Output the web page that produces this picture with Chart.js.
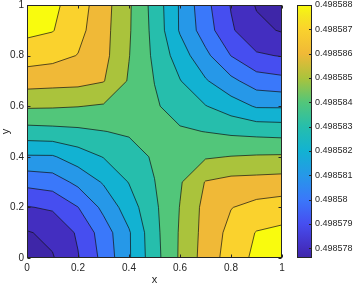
<!DOCTYPE html>
<html lang="en">
<head>
    <meta charset="UTF-8">
    <title>Filled contour</title>
    <script src="https://cdn.jsdelivr.net/npm/chart.js"></script>
    <style>
        html, body {
            margin: 0;
            padding: 0;
            background-color: #fff;
        }
        #plot {
            display: block;
        }
    </style>
</head>
<body>
    <canvas id="plot" width="354" height="285"></canvas>

    <script>
        // grid coordinates
        const xGrid = [0, 0.1, 0.2, 0.3, 0.4, 0.5, 0.6, 0.7, 0.8, 0.9, 1];
        const yGrid = [0, 0.1, 0.2, 0.3, 0.4, 0.5, 0.6, 0.7, 0.8, 0.9, 1];

        // z values, one row per y (bottom row first)
        const zGrid = [
            [0.49857700, 0.49857792, 0.49857894, 0.49858030, 0.49858189, 0.49858362, 0.49858513, 0.49858642, 0.49858746, 0.49858824, 0.49858900],
            [0.49857792, 0.49857825, 0.49857913, 0.49858049, 0.49858190, 0.49858370, 0.49858510, 0.49858635, 0.49858730, 0.49858805, 0.49858824],
            [0.49857894, 0.49857913, 0.49857998, 0.49858125, 0.49858250, 0.49858381, 0.49858503, 0.49858630, 0.49858697, 0.49858730, 0.49858746],
            [0.49858030, 0.49858049, 0.49858125, 0.49858210, 0.49858304, 0.49858398, 0.49858490, 0.49858605, 0.49858630, 0.49858635, 0.49858642],
            [0.49858189, 0.49858190, 0.49858250, 0.49858304, 0.49858358, 0.49858412, 0.49858455, 0.49858490, 0.49858503, 0.49858510, 0.49858513],
            [0.49858362, 0.49858370, 0.49858381, 0.49858398, 0.49858412, 0.49858424, 0.49858412, 0.49858398, 0.49858381, 0.49858370, 0.49858362],
            [0.49858513, 0.49858510, 0.49858503, 0.49858490, 0.49858455, 0.49858412, 0.49858358, 0.49858304, 0.49858250, 0.49858190, 0.49858189],
            [0.49858642, 0.49858635, 0.49858630, 0.49858605, 0.49858490, 0.49858398, 0.49858304, 0.49858210, 0.49858125, 0.49858049, 0.49858030],
            [0.49858746, 0.49858730, 0.49858697, 0.49858630, 0.49858503, 0.49858381, 0.49858250, 0.49858125, 0.49857998, 0.49857913, 0.49857894],
            [0.49858824, 0.49858805, 0.49858730, 0.49858635, 0.49858510, 0.49858370, 0.49858190, 0.49858049, 0.49857913, 0.49857825, 0.49857792],
            [0.49858900, 0.49858824, 0.49858746, 0.49858642, 0.49858513, 0.49858362, 0.49858189, 0.49858030, 0.49857894, 0.49857792, 0.49857700]
        ];

        // contour levels and tick labels
        const levels = [0.498578, 0.498579, 0.49858, 0.498581, 0.498582, 0.498583, 0.498584, 0.498585, 0.498586, 0.498587, 0.498588];
        const xTicks = [0, 0.2, 0.4, 0.6, 0.8, 1];
        const yTicks = [0, 0.2, 0.4, 0.6, 0.8, 1];
        const cbTicks = [0.498578, 0.498579, 0.49858, 0.498581, 0.498582, 0.498583, 0.498584, 0.498585, 0.498586, 0.498587, 0.498588];
        const cbRange = [0.4985776, 0.498588];

        // parula-like colormap
        const parulaStops = [
            [0.000, 62, 38, 168],
            [0.038, 67, 46, 192],
            [0.135, 70, 78, 240],
            [0.231, 58, 120, 250],
            [0.327, 38, 152, 232],
            [0.423, 18, 178, 210],
            [0.519, 38, 190, 172],
            [0.615, 82, 198, 122],
            [0.711, 170, 195, 60],
            [0.808, 240, 185, 55],
            [0.904, 250, 210, 45],
            [0.960, 245, 232, 30],
            [1.000, 249, 251, 14]
        ];

        function parula(f) {
            f = Math.min(1, Math.max(0, f));
            for (let i = 1; i < parulaStops.length; i++) {
                const a = parulaStops[i - 1], b = parulaStops[i];
                if (f <= b[0]) {
                    const t = (f - a[0]) / (b[0] - a[0]);
                    const c = [1, 2, 3].map(k => Math.round(a[k] + (b[k] - a[k]) * t));
                    return `rgb(${c[0]}, ${c[1]}, ${c[2]})`;
                }
            }
            return 'rgb(249, 251, 14)';
        }

        function bandColor(k) {
            const lower = k === 0 ? cbRange[0] : levels[k - 1];
            return parula((lower - cbRange[0]) / (cbRange[1] - cbRange[0]));
        }

        function cellCorners(i, j) {
            return [
                { x: xGrid[i], y: yGrid[j], z: zGrid[j][i] },
                { x: xGrid[i + 1], y: yGrid[j], z: zGrid[j][i + 1] },
                { x: xGrid[i + 1], y: yGrid[j + 1], z: zGrid[j + 1][i + 1] },
                { x: xGrid[i], y: yGrid[j + 1], z: zGrid[j + 1][i] }
            ];
        }

        function cross(a, b, L) {
            const t = (L - a.z) / (b.z - a.z);
            return { x: a.x + (b.x - a.x) * t, y: a.y + (b.y - a.y) * t, z: L };
        }

        // part of a cell where z >= L
        function clipCell(v, L) {
            const out = [];
            for (let k = 0; k < v.length; k++) {
                const a = v[k], b = v[(k + 1) % v.length];
                const ain = a.z >= L, bin = b.z >= L;
                if (ain) out.push(a);
                if (ain !== bin) out.push(cross(a, b, L));
            }
            return out;
        }

        const ink = '#262626';

        const contourPlugin = {
            id: 'contour',
            beforeDatasetsDraw(chart) {
                const { ctx, chartArea: a, scales: { x, y, cb } } = chart;
                const px = v => x.getPixelForValue(v);
                const py = v => y.getPixelForValue(v);

                ctx.save();
                ctx.beginPath();
                ctx.rect(a.left, a.top, a.right - a.left, a.bottom - a.top);
                ctx.clip();

                // filled bands, each level painted over the one below
                for (let k = 0; k <= levels.length; k++) {
                    const L = k === 0 ? -Infinity : levels[k - 1];
                    ctx.beginPath();
                    for (let j = 0; j < yGrid.length - 1; j++) {
                        for (let i = 0; i < xGrid.length - 1; i++) {
                            const poly = clipCell(cellCorners(i, j), L);
                            if (poly.length < 3) continue;
                            ctx.moveTo(px(poly[0].x), py(poly[0].y));
                            for (let m = 1; m < poly.length; m++) ctx.lineTo(px(poly[m].x), py(poly[m].y));
                            ctx.closePath();
                        }
                    }
                    ctx.fillStyle = bandColor(k);
                    ctx.fill();
                }

                // contour lines
                ctx.beginPath();
                levels.forEach(L => {
                    for (let j = 0; j < yGrid.length - 1; j++) {
                        for (let i = 0; i < xGrid.length - 1; i++) {
                            const v = cellCorners(i, j);
                            const pts = [];
                            for (let k = 0; k < 4; k++) {
                                const p = v[k], q = v[(k + 1) % 4];
                                if ((p.z >= L) !== (q.z >= L)) pts.push({ c: cross(p, q, L), exit: p.z >= L });
                            }
                            for (let m = 0; m < pts.length; m++) {
                                if (!pts[m].exit) continue;
                                const n = pts[(m + 1) % pts.length];
                                ctx.moveTo(px(pts[m].c.x), py(pts[m].c.y));
                                ctx.lineTo(px(n.c.x), py(n.c.y));
                            }
                        }
                    }
                });
                ctx.lineWidth = 0.7;
                ctx.strokeStyle = '#111';
                ctx.stroke();
                ctx.restore();

                // axes box with inward ticks
                ctx.save();
                ctx.strokeStyle = ink;
                ctx.lineWidth = 1;
                const l = Math.round(a.left) + 0.5, r = Math.round(a.right) - 0.5;
                const t = Math.round(a.top) + 0.5, b = Math.round(a.bottom) - 0.5;
                ctx.beginPath();
                xTicks.forEach(v => {
                    const X = Math.round(px(v)) + 0.5;
                    ctx.moveTo(X, b); ctx.lineTo(X, b - 3);
                    ctx.moveTo(X, t); ctx.lineTo(X, t + 3);
                });
                yTicks.forEach(v => {
                    const Y = Math.round(py(v)) + 0.5;
                    ctx.moveTo(l, Y); ctx.lineTo(l + 3, Y);
                    ctx.moveTo(r, Y); ctx.lineTo(r - 3, Y);
                });
                ctx.stroke();
                ctx.strokeRect(l, t, r - l, b - t);

                // colorbar
                const cx0 = Math.round(a.right) + 15, cx1 = Math.round(a.right) + 30;
                const ct = cb.getPixelForValue(cbRange[1]), cbot = cb.getPixelForValue(cbRange[0]);
                const grad = ctx.createLinearGradient(0, cbot, 0, ct);
                parulaStops.forEach(s => grad.addColorStop(s[0], `rgb(${s[1]}, ${s[2]}, ${s[3]})`));
                ctx.fillStyle = grad;
                ctx.fillRect(cx0, ct, cx1 - cx0, cbot - ct);
                ctx.beginPath();
                cbTicks.forEach(v => {
                    const Y = Math.round(cb.getPixelForValue(v)) + 0.5;
                    ctx.moveTo(cx1, Y); ctx.lineTo(cx1 - 3, Y);
                });
                ctx.stroke();
                ctx.strokeRect(cx0 + 0.5, Math.round(ct) + 0.5, cx1 - cx0 - 1, Math.round(cbot - ct) - 1);
                ctx.restore();
            }
        };

        const tickFont = { family: '"Liberation Sans", Arial, sans-serif', size: 10 };
        const noPad = s => { s.paddingTop = 0; s.paddingBottom = 0; s.paddingLeft = 0; s.paddingRight = 0; };

        new Chart(document.getElementById('plot'), {
            type: 'scatter',
            data: { datasets: [{ data: [] }] },
            plugins: [contourPlugin],
            options: {
                responsive: false,
                devicePixelRatio: 1,
                animation: false,
                layout: { padding: { top: 5, left: 0, right: 0, bottom: 0 } },
                plugins: { legend: { display: false }, tooltip: { enabled: false } },
                scales: {
                    x: {
                        type: 'linear', position: 'bottom', min: 0, max: 1,
                        afterBuildTicks: s => { s.ticks = xTicks.map(v => ({ value: v })); },
                        afterFit: s => { s.height = 27; noPad(s); },
                        grid: { display: false, drawTicks: false },
                        border: { display: false },
                        ticks: { padding: 4, color: ink, font: tickFont, maxRotation: 0, autoSkip: false, callback: v => String(v) },
                        title: { display: true, text: 'x', color: ink, padding: 0, font: { family: tickFont.family, size: 11, lineHeight: 1 } }
                    },
                    y: {
                        type: 'linear', position: 'left', min: 0, max: 1,
                        afterBuildTicks: s => { s.ticks = yTicks.map(v => ({ value: v })); },
                        afterFit: s => { s.width = 27; noPad(s); },
                        grid: { display: false, drawTicks: false },
                        border: { display: false },
                        ticks: { padding: 3, color: ink, font: tickFont, autoSkip: false, callback: v => String(v) },
                        title: { display: true, text: 'y', color: ink, padding: 0, font: { family: tickFont.family, size: 11, lineHeight: 1 } }
                    },
                    cb: {
                        type: 'linear', position: 'right', min: cbRange[0], max: cbRange[1],
                        afterBuildTicks: s => { s.ticks = cbTicks.map(v => ({ value: v })); },
                        afterFit: s => { s.width = 72; noPad(s); },
                        grid: { display: false, drawTicks: false },
                        border: { display: false },
                        ticks: { padding: 33, color: ink, font: { family: tickFont.family, size: 9 }, autoSkip: false, callback: v => String(parseFloat(v.toFixed(6))) }
                    }
                }
            }
        });
    </script>
</body>
</html>
